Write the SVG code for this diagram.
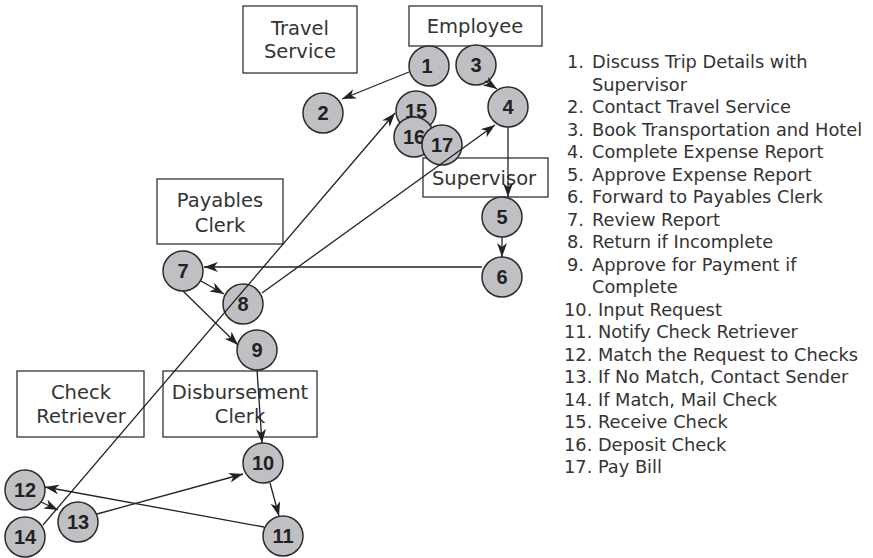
<svg xmlns="http://www.w3.org/2000/svg" width="873" height="558" viewBox="0 0 873 558">
<style>
.box rect{fill:#fff;stroke:#333;stroke-width:1.3}
.box text{font-family:"DejaVu Sans",sans-serif;font-size:19.5px;fill:#333;text-anchor:middle}
.node circle{fill:#c0c0c4;stroke:#2b2b2b;stroke-width:1.5}
.node text{font-family:"Liberation Sans",Arial,sans-serif;font-weight:bold;font-size:20px;fill:#222;text-anchor:middle}
.conn line{stroke:#222;stroke-width:1.3;marker-end:url(#arr)}
.legend text{font-family:"DejaVu Sans",sans-serif;font-size:17.8px;fill:#333}
</style>
<defs>
<marker id="arr" viewBox="0 0 14 10" refX="14" refY="5" markerWidth="14" markerHeight="10" markerUnits="userSpaceOnUse" orient="auto">
<path d="M0,0 L14,5 L0,10 L4,5 Z" fill="#222"/>
</marker>
</defs>
<rect width="873" height="558" fill="#fff"/>
<g id="box-travel" class="box"><rect x="243" y="6" width="114" height="67"/><text x="300" y="35">Travel</text><text x="300" y="58">Service</text></g>
<g id="box-employee" class="box"><rect x="409" y="6" width="133" height="40"/><text x="475" y="33">Employee</text></g>
<g id="box-supervisor" class="box"><rect x="423" y="158" width="125" height="39"/><text x="484" y="185">Supervisor</text></g>
<g id="box-payables" class="box"><rect x="157" y="179" width="126" height="65"/><text x="220" y="207">Payables</text><text x="220" y="232">Clerk</text></g>
<g id="box-retriever" class="box"><rect x="17" y="371" width="127" height="66"/><text x="81" y="399">Check</text><text x="81" y="423">Retriever</text></g>
<g id="box-disbursement" class="box"><rect x="163" y="371" width="154" height="66"/><text x="240" y="399">Disbursement</text><text x="240" y="423">Clerk</text></g>
<g id="n1" class="node"><circle cx="429" cy="66" r="20"/><text x="427" y="73">1</text></g>
<g id="n2" class="node"><circle cx="323" cy="113" r="20"/><text x="323" y="120">2</text></g>
<g id="n3" class="node"><circle cx="476" cy="65" r="20"/><text x="476" y="72">3</text></g>
<g id="n4" class="node"><circle cx="508" cy="107" r="20"/><text x="508" y="114">4</text></g>
<g id="n5" class="node"><circle cx="502" cy="217" r="20"/><text x="502" y="224">5</text></g>
<g id="n6" class="node"><circle cx="502" cy="277" r="20"/><text x="502" y="284">6</text></g>
<g id="n7" class="node"><circle cx="183" cy="271" r="20"/><text x="183" y="278">7</text></g>
<g id="n8" class="node"><circle cx="243" cy="304" r="20"/><text x="243" y="311">8</text></g>
<g id="n9" class="node"><circle cx="257" cy="350" r="20"/><text x="257" y="357">9</text></g>
<g id="n10" class="node"><circle cx="263" cy="463" r="20"/><text x="263" y="470">10</text></g>
<g id="n11" class="node"><circle cx="283" cy="536" r="20"/><text x="283" y="543">11</text></g>
<g id="n12" class="node"><circle cx="25" cy="490" r="20"/><text x="25" y="497">12</text></g>
<g id="n13" class="node"><circle cx="78" cy="522" r="20"/><text x="78" y="529">13</text></g>
<g id="n14" class="node"><circle cx="25" cy="537" r="20"/><text x="25" y="544">14</text></g>
<g id="n15" class="node"><circle cx="416" cy="111" r="20"/><text x="416" y="118">15</text></g>
<g id="n16" class="node"><circle cx="414" cy="137" r="20"/><text x="414" y="144">16</text></g>
<g id="n17" class="node"><circle cx="442" cy="145" r="20"/><text x="442" y="152">17</text></g>
<g id="connectors" class="conn">
<line x1="409" y1="72" x2="342" y2="99"/>
<line x1="485" y1="81" x2="497" y2="89"/>
<line x1="508" y1="127" x2="508" y2="197"/>
<line x1="502" y1="237" x2="502" y2="257"/>
<line x1="482" y1="267" x2="204" y2="267"/>
<line x1="201" y1="281" x2="224" y2="294"/>
<line x1="183" y1="291" x2="238" y2="345"/>
<line x1="262" y1="293" x2="495" y2="125"/>
<line x1="43" y1="525" x2="395" y2="113"/>
<line x1="257" y1="370" x2="262" y2="443"/>
<line x1="270" y1="483" x2="279" y2="516"/>
<line x1="264" y1="527" x2="45" y2="487"/>
<line x1="41" y1="502" x2="58" y2="510"/>
<line x1="97" y1="514" x2="243" y2="474"/>
</g>
<g id="legend" class="legend">
<text y="68"><tspan x="567">1.</tspan><tspan x="592">Discuss Trip Details with</tspan></text>
<text x="592" y="90.5">Supervisor</text>
<text y="113"><tspan x="567">2.</tspan><tspan x="592">Contact Travel Service</tspan></text>
<text y="135.5"><tspan x="567">3.</tspan><tspan x="592">Book Transportation and Hotel</tspan></text>
<text y="158"><tspan x="567">4.</tspan><tspan x="592">Complete Expense Report</tspan></text>
<text y="180.5"><tspan x="567">5.</tspan><tspan x="592">Approve Expense Report</tspan></text>
<text y="203"><tspan x="567">6.</tspan><tspan x="592">Forward to Payables Clerk</tspan></text>
<text y="225.5"><tspan x="567">7.</tspan><tspan x="592">Review Report</tspan></text>
<text y="248"><tspan x="567">8.</tspan><tspan x="592">Return if Incomplete</tspan></text>
<text y="270.5"><tspan x="567">9.</tspan><tspan x="592">Approve for Payment if</tspan></text>
<text x="592" y="293">Complete</text>
<text x="564" y="315.5">10. Input Request</text>
<text x="564" y="338">11. Notify Check Retriever</text>
<text x="564" y="360.5">12. Match the Request to Checks</text>
<text x="564" y="383">13. If No Match, Contact Sender</text>
<text x="564" y="405.5">14. If Match, Mail Check</text>
<text x="564" y="428">15. Receive Check</text>
<text x="564" y="450.5">16. Deposit Check</text>
<text x="564" y="473">17. Pay Bill</text>
</g>
</svg>
